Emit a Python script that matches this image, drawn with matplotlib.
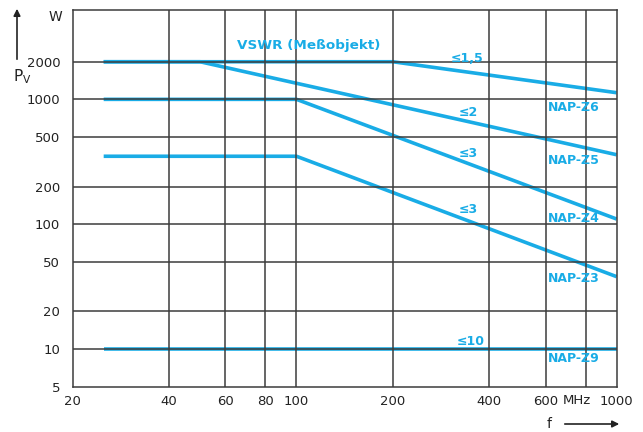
import matplotlib.pyplot as plt
from matplotlib.ticker import FixedLocator, NullLocator

# Data, frequency in MHz, power in W
freq_z6 = [25, 200, 1000]
pv_z6 = [2000, 2000, 1130]
freq_z5 = [25, 50, 1000]
pv_z5 = [2000, 2000, 360]
freq_z4 = [25, 100, 1000]
pv_z4 = [1000, 1000, 110]
freq_z3 = [25, 100, 1000]
pv_z3 = [350, 350, 38]
freq_z9 = [25, 1000]
pv_z9 = [10, 10]

x_ticks = [20, 40, 60, 80, 100, 200, 400, 600, 1000]
x_grid = [40, 60, 80, 100, 200, 400, 600, 800]
y_ticks = [5, 10, 20, 50, 100, 200, 500, 1000, 2000]
y_grid = [10, 20, 50, 100, 200, 500, 1000, 2000]

vswr_labels = ['≤1,5', '≤2', '≤3', '≤3', '≤10']
vswr_pos = [(342, 2140), (345, 780), (345, 367), (345, 130), (350, 11.5)]
nap_names = ['NAP-Z6', 'NAP-Z5', 'NAP-Z4', 'NAP-Z3', 'NAP-Z9']
nap_y = [862, 322, 112, 37, 8.4]

blue = '#19ace6'
grid_col = '#3c3c3c'
text_col = '#222222'

fig = plt.figure(figsize=(6.43, 4.32), dpi=100)
ax = fig.add_axes([0.113, 0.105, 0.846, 0.872])
ax.set_xscale('log')
ax.set_yscale('log')
ax.set_xlim(20, 1000)
ax.set_ylim(5, 5200)

# grid drawn on top of the curves, like the printed original
for gx in x_grid:
    ax.axvline(gx, color=grid_col, lw=1.1, zorder=3)
for gy in y_grid:
    ax.axhline(gy, color=grid_col, lw=1.1, zorder=3)

for f, p in [(freq_z6, pv_z6), (freq_z5, pv_z5), (freq_z4, pv_z4),
             (freq_z3, pv_z3), (freq_z9, pv_z9)]:
    ax.plot(f, p, color=blue, lw=2.6, solid_capstyle='butt', zorder=2)

ax.xaxis.set_major_locator(FixedLocator(x_ticks))
ax.xaxis.set_minor_locator(NullLocator())
ax.yaxis.set_major_locator(FixedLocator(y_ticks))
ax.yaxis.set_minor_locator(NullLocator())
ax.set_xticklabels([str(v) for v in x_ticks])
ax.set_yticklabels([str(v) for v in y_ticks])
ax.tick_params(length=0, labelsize=9.5, colors=text_col)
ax.tick_params(axis='x', pad=6)
ax.tick_params(axis='y', pad=9)
for s in ax.spines.values():
    s.set_color(grid_col)
    s.set_linewidth(1.1)

# curve labels
ax.text(109, 2686, 'VSWR (Meßobjekt)', color=blue, fontsize=9.7,
        ha='center', va='center', fontweight='bold')
for (xv, yv), lab in zip(vswr_pos, vswr_labels):
    ax.text(xv, yv, lab, color=blue, fontsize=9, ha='center', va='center', fontweight='bold')
for yv, name in zip(nap_y, nap_names):
    ax.text(608, yv, name, color=blue, fontsize=9, ha='left', va='center', fontweight='bold')

# axis captions
fig.text(55 / 643, 1 - 17 / 432, 'W', fontsize=10, ha='center', va='center', color=text_col)
fig.text(22 / 643, 1 - 77 / 432, r'P$_\mathregular{V}$', fontsize=11, ha='center', va='center', color=text_col)
ax.annotate('', xy=(17 / 643, 1 - 6 / 432), xytext=(17 / 643, 1 - 62 / 432),
            xycoords='figure fraction', textcoords='figure fraction', annotation_clip=False,
            arrowprops=dict(arrowstyle='-|>', color=text_col, lw=1.2, mutation_scale=10))
fig.text(577 / 643, 1 - 400 / 432, 'MHz', fontsize=9.5, ha='center', va='center', color=text_col)
fig.text(549 / 643, 1 - 424 / 432, 'f', fontsize=10, ha='center', va='center', color=text_col)
ax.annotate('', xy=(622 / 643, 1 - 424 / 432), xytext=(562 / 643, 1 - 424 / 432),
            xycoords='figure fraction', textcoords='figure fraction', annotation_clip=False,
            arrowprops=dict(arrowstyle='-|>', color=text_col, lw=1.2, mutation_scale=10))

fig.savefig('out.png', dpi=100, facecolor='white')
